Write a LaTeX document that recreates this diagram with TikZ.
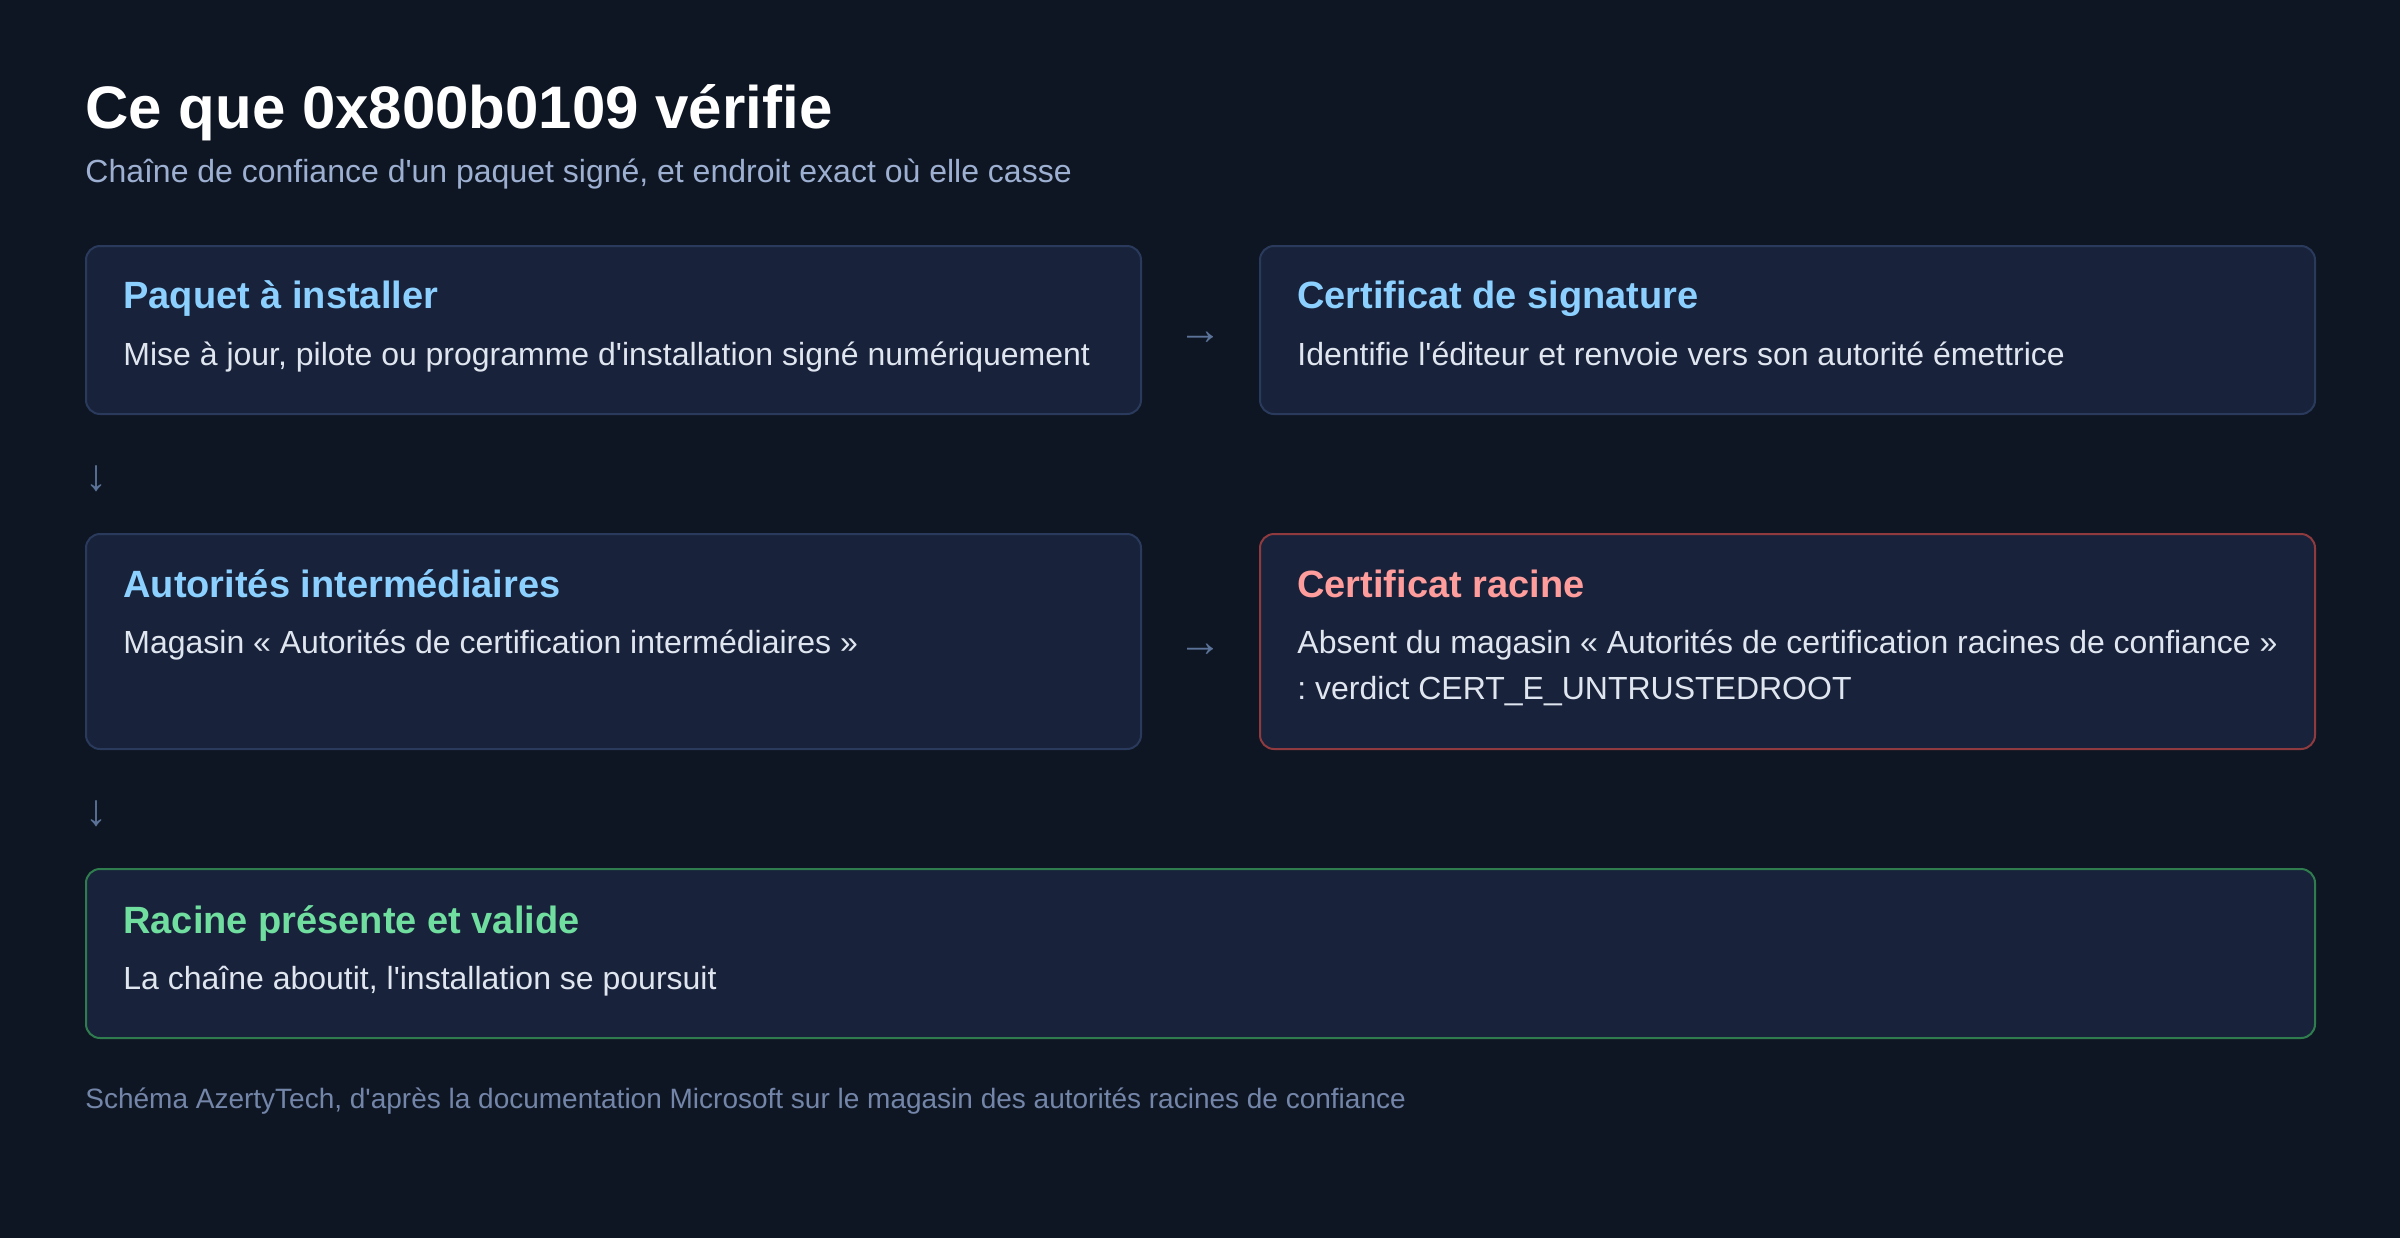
\documentclass[tikz,border=0pt]{standalone}
\usepackage{fontspec}
\setmainfont[Ligatures=TeXOff]{Liberation Sans}
\usetikzlibrary{calc}
\definecolor{bg}{HTML}{0F1623}
\definecolor{cardfill}{HTML}{18223A}
\definecolor{cardline}{HTML}{2A3A5C}
\definecolor{redline}{HTML}{8E3A3E}
\definecolor{greenline}{HTML}{2F7D4E}
\definecolor{bluetitle}{HTML}{8CD0FF}
\definecolor{redtitle}{HTML}{FF9C9C}
\definecolor{greentitle}{HTML}{6FDE9F}
\definecolor{bodytext}{HTML}{E0E6F0}
\definecolor{subtext}{HTML}{9DB0D2}
\definecolor{foottext}{HTML}{7385A8}
\definecolor{arrowcol}{HTML}{5B7399}
\frenchspacing
\tikzset{
  card/.style={draw=cardline, fill=cardfill, line width=1pt, rounded corners=7pt, anchor=north west, inner sep=0pt},
  txt/.style={anchor=base west, inner sep=0pt},
  maintitle/.style={txt, text=white, font=\fontsize{30pt}{36pt}\selectfont\bfseries},
  subtitle/.style={txt, text=subtext, font=\fontsize{16pt}{19pt}\selectfont},
  cardtitle/.style={txt, font=\fontsize{19pt}{22pt}\selectfont\bfseries},
  cardbody/.style={txt, text=bodytext, font=\fontsize{16pt}{23pt}\selectfont, align=left},
  footer/.style={txt, text=foottext, font=\fontsize{14pt}{17pt}\selectfont},
  glypharrow/.style={inner sep=0pt, text=arrowcol, font=\fontsize{22pt}{24pt}\selectfont},
}
\begin{document}
\begin{tikzpicture}[x=0.5pt,y=-0.5pt]
\useasboundingbox[fill=bg] (0,0) rectangle (2400,1238);

\node[maintitle] (title) at (85,128) {Ce que 0x800b0109 vérifie};
\node[subtitle] (sub) at (85,182) {Chaîne de confiance d'un paquet signé, et endroit exact où elle casse};

% cards
\node[card, minimum width=527.5pt, minimum height=84pt] (b1) at (85,245) {};
\node[card, minimum width=527.5pt, minimum height=84pt] (b2) at (1259,245) {};
\node[card, minimum width=527.5pt, minimum height=107.5pt] (b3) at (85,533) {};
\node[card, draw=redline, minimum width=527.5pt, minimum height=107.5pt] (b4) at (1259,533) {};
\node[card, draw=greenline, minimum width=1114.5pt, minimum height=84.5pt] (b5) at (85,868) {};

% card texts
\node[cardtitle, text=bluetitle] (t1) at (123,308) {Paquet à installer};
\node[cardbody] (d1) at (123,365) {Mise à jour, pilote ou programme d'installation signé numériquement};

\node[cardtitle, text=bluetitle] (t2) at (1297,308) {Certificat de signature};
\node[cardbody] (d2) at (1297,365) {Identifie l'éditeur et renvoie vers son autorité émettrice};

\node[cardtitle, text=bluetitle] (t3) at (123,597) {Autorités intermédiaires};
\node[cardbody] (d3) at (123,653) {Magasin « Autorités de certification intermédiaires »};

\node[cardtitle, text=redtitle] (t4) at (1297,597) {Certificat racine};
\node[cardbody] (d4a) at (1297,653) {Absent du magasin « Autorités de certification racines de confiance »};
\node[cardbody] (d4b) at (1297,699) {: verdict CERT\_E\_UNTRUSTEDROOT};

\node[cardtitle, text=greentitle] (t5) at (123,933) {Racine présente et valide};
\node[cardbody] (d5) at (123,989) {La chaîne aboutit, l'installation se poursuit};

% arrows (glyphs)
\node[glypharrow] (a12) at ($(b1.east)!0.5!(b2.west)+(0,8)$) {→};
\node[glypharrow] (a34) at ($(b3.east)!0.5!(b4.west)+(0,9)$) {→};
\node[glypharrow] (a13) at ($(b1.south west)!0.5!(b3.north west)+(11,5)$) {↓};
\node[glypharrow] (a35) at ($(b3.south west)!0.5!(b5.north west)+(11,5)$) {↓};

\node[footer] (foot) at (85,1108) {Schéma AzertyTech, d'après la documentation Microsoft sur le magasin des autorités racines de confiance};
\end{tikzpicture}
\end{document}
